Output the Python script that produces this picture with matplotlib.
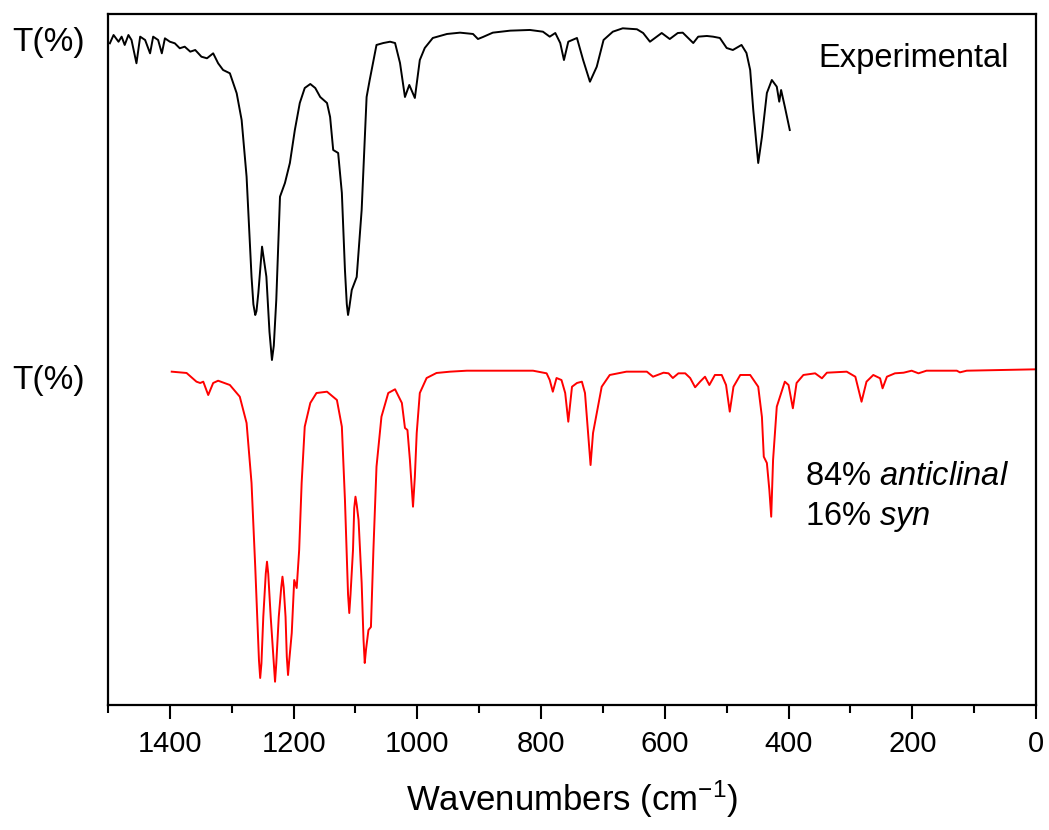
import matplotlib
matplotlib.use("Agg")
import matplotlib.pyplot as plt
from matplotlib.ticker import MultipleLocator

plt.rcParams['font.family'] = ['Liberation Sans', 'DejaVu Sans']
plt.rcParams['mathtext.fontset'] = 'custom'
plt.rcParams['mathtext.rm'] = 'Liberation Sans'
plt.rcParams['mathtext.it'] = 'Liberation Sans:italic'

# Experimental spectrum (wavenumber cm-1, offset transmittance a.u.)
exp_wn = [1497, 1491, 1483, 1478, 1473, 1467, 1462, 1454, 1448, 1440, 1432, 1427,
          1419, 1413, 1408, 1400, 1392, 1384, 1376, 1367, 1359, 1354, 1349, 1340,
          1330, 1322, 1314, 1303, 1292, 1284, 1276, 1268, 1265, 1262, 1260, 1257,
          1251, 1244, 1239, 1235, 1232, 1228, 1222, 1214, 1206, 1198, 1190, 1182,
          1173, 1165, 1157, 1146, 1141, 1136, 1128, 1122, 1117, 1114, 1112, 1110,
          1106, 1098, 1090, 1082, 1077, 1066, 1055, 1044, 1036, 1028, 1020, 1013,
          1004, 996, 988, 975, 952, 931, 910, 902, 894, 878, 850, 818, 797, 786,
          777, 769, 763, 756, 742, 732, 721, 710, 699, 684, 668, 645, 635, 624,
          613, 605, 592, 579, 571, 554, 546, 532, 522, 511, 500, 490, 476, 468,
          462, 457, 451, 449, 443, 435, 427, 419, 415, 412, 406, 398]
exp_t = [95.76, 96.96, 95.99, 96.72, 95.52, 96.96, 96.24, 92.87, 96.72, 96.24, 94.31, 96.72,
         96.24, 94.31, 96.48, 95.99, 95.76, 95.04, 95.27, 94.55, 94.79, 94.31, 93.82, 93.59,
         94.31, 92.87, 91.90, 91.42, 88.53, 84.66, 76.46, 61.98, 58.00, 56.44, 57.00, 59.62,
         66.33, 61.98, 54.00, 49.93, 52.00, 58.61, 73.56, 75.54, 78.44, 83.21, 87.12, 89.29,
         89.87, 89.29, 87.99, 87.12, 85.10, 80.32, 79.89, 74.10, 62.95, 58.00, 56.44, 57.50,
         60.06, 61.94, 71.64, 87.99, 90.45, 95.52, 95.80, 95.99, 95.80, 92.91, 87.99, 89.73,
         87.85, 93.34, 95.08, 96.53, 97.11, 97.30, 97.11, 96.38, 96.67, 97.30, 97.59, 97.69, 97.44, 96.72,
         97.25, 95.80, 93.34, 95.99, 96.53, 93.34, 90.20, 92.37, 96.24, 97.44, 97.93, 97.79, 97.25, 95.99,
         96.72, 97.25, 96.38, 97.25, 97.30, 95.80, 96.72, 96.82, 96.72, 96.53, 95.08, 94.79, 95.52, 94.36,
         91.90, 86.11, 80.32, 78.44, 82.20, 88.57, 90.45, 89.48, 87.31, 89.00, 86.59, 83.21]

# Calculated spectrum (84% anticlinal / 16% syn)
calc_wn = [1397, 1373, 1357, 1351, 1346, 1338, 1330, 1322, 1303, 1287, 1276, 1268,
           1262, 1256, 1254, 1252, 1249, 1245, 1243, 1241, 1237, 1232, 1230, 1228,
           1224, 1220, 1218, 1216, 1213, 1211, 1209, 1207, 1203, 1199, 1195, 1191,
           1187, 1182, 1173, 1163, 1146, 1130, 1122, 1117, 1112, 1110, 1108, 1104,
           1102, 1100, 1098, 1095, 1090, 1087, 1085, 1083, 1079, 1075, 1071, 1066,
           1058, 1047, 1036, 1025, 1020, 1016, 1012, 1007, 1004, 1001, 996, 985,
           969, 947, 920, 813, 791, 786, 781, 775, 767, 761, 756, 750, 742, 734,
           729, 724, 720, 716, 710, 702, 689, 662, 629, 619, 602, 594, 587, 578,
           567, 559, 551, 543, 535, 528, 519, 508, 501, 495, 489, 478, 462, 449,
           443, 440, 435, 431, 428, 425, 419, 406, 400, 393, 387, 376, 357, 346,
           338, 306, 292, 282, 274, 263, 252, 248, 241, 228, 214, 201, 190, 177,
           128, 123, 112, 58, 0]
calc_t = [48.24, 48.05, 46.79, 46.60, 46.79, 44.86, 46.60, 46.93, 46.31, 44.62, 40.81, 32.13,
          19.97, 6.50, 3.91, 6.00, 12.74, 19.00, 20.74, 19.00, 12.74, 6.00, 3.37, 6.00,
          12.74, 17.00, 18.57, 17.00, 12.74, 7.00, 4.34, 6.50, 10.42, 18.09, 16.93, 22.43,
          32.13, 40.28, 43.71, 45.15, 45.34, 44.14, 40.28, 29.67, 16.00, 13.31, 16.00, 22.43,
          28.50, 30.15, 29.00, 26.77, 17.66, 9.50, 6.08, 8.00, 10.85, 11.29, 22.43, 34.49,
          41.72, 45.15, 45.69, 43.71, 40.09, 39.80, 35.46, 28.70, 33.04, 39.36, 45.15, 47.32,
          48.05, 48.24, 48.38, 48.38, 48.00, 47.03, 45.34, 47.32, 47.03, 45.15, 41.00, 46.06, 46.60, 46.79,
          45.15, 39.36, 34.73, 39.36, 42.26, 46.06, 47.76, 48.24, 48.24, 47.51, 48.09, 48.00, 47.32, 48.00,
          48.00, 47.32, 45.98, 46.79, 47.51, 46.31, 47.76, 47.76, 46.31, 42.45, 46.06, 47.76, 47.76, 46.06,
          41.68, 35.93, 35.02, 31.11, 27.25, 35.46, 43.17, 46.79, 46.31, 42.94, 46.60, 47.76, 48.00, 47.28,
          48.09, 48.24, 47.51, 43.89, 46.79, 47.76, 47.28, 45.83, 47.51, 48.00, 48.09, 48.38, 48.00, 48.38,
          48.38, 48.14, 48.38, 48.48, 48.58]

x_ticks = [1400, 1200, 1000, 800, 600, 400, 200, 0]

fig = plt.figure(figsize=(10.49, 8.30), dpi=100)
ax = fig.add_axes([108/1049, 1 - 705/830, 928/1049, 691/830])

ax.plot(exp_wn, exp_t, color='black', lw=1.4)
ax.plot(calc_wn, calc_t, color='#ff0000', lw=1.4)

ax.set_xlim(1500, 0)
ax.set_ylim(0, 100)
ax.set_xticks(x_ticks)
ax.set_xticklabels([str(v) for v in x_ticks])
ax.xaxis.set_minor_locator(MultipleLocator(100))
ax.set_yticks([])
ax.tick_params(axis='x', which='major', direction='out', length=10, width=1.5,
               labelsize=21, pad=8)
ax.tick_params(axis='x', which='minor', direction='out', length=5.5, width=1.5)
for s in ax.spines.values():
    s.set_linewidth(1.6)

ax.set_xlabel('Wavenumbers (cm$^{-1}$)', fontsize=25, labelpad=15)

fig.text(12/1049, 1 - 42/830, 'T(%)', fontsize=24, ha='left', va='center')
fig.text(12/1049, 1 - 380/830, 'T(%)', fontsize=24, ha='left', va='center')

ax.text(0.765, 0.936, 'Experimental', transform=ax.transAxes, fontsize=23.5,
        ha='left', va='center')
ax.text(0.751, 0.330, '84% $\\it{anticlinal}$', transform=ax.transAxes, fontsize=23.5,
        ha='left', va='center')
ax.text(0.751, 0.272, '16% $\\it{syn}$', transform=ax.transAxes, fontsize=23.5,
        ha='left', va='center')

fig.savefig('out.png', dpi=100)
